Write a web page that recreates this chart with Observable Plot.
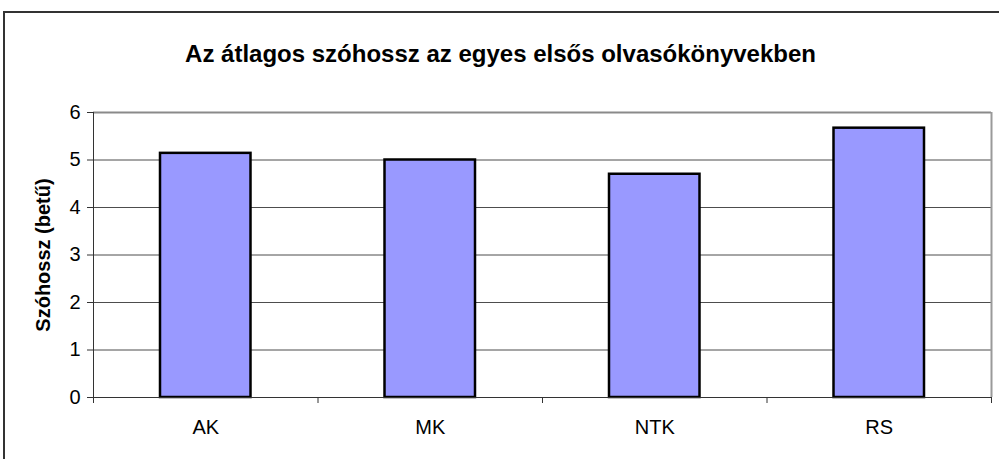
<!DOCTYPE html>
<html>
<head>
<meta charset="utf-8">
<script src="https://cdn.jsdelivr.net/npm/d3@7"></script>
<script src="https://cdn.jsdelivr.net/npm/@observablehq/plot@0.6"></script>
<style>
  html, body { margin: 0; padding: 0; background: #fff; overflow: hidden; }
  #wrap { position: relative; width: 999px; height: 459px; overflow: hidden; font-family: "Liberation Sans", Arial, sans-serif; }
  #frame { position: absolute; left: 3px; top: 11px; width: 1100px; height: 600px; border-left: 2px solid #333; border-top: 2px solid #333; box-sizing: border-box; pointer-events: none; }
  #chart { position: absolute; left: 0; top: 0; }
</style>
</head>
<body>
<div id="wrap"><div id="chart"></div><div id="frame"></div></div>
<script>
const title = "Az átlagos szóhossz az egyes elsős olvasókönyvekben";
const yLabel = "Szóhossz (betű)";
const categories = ["AK", "MK", "NTK", "RS"];
const values = [5.14, 5.0, 4.7, 5.67];
const yTicks = [0, 1, 2, 3, 4, 5, 6];

const data = categories.map((c, i) => ({i, cat: c, value: values[i]}));
const n = categories.length;
const boundaries = d3.range(n + 1);
const centers = d3.range(n).map(i => i + 0.5);

const chart = Plot.plot({
  width: 999,
  height: 459,
  marginLeft: 93,
  marginRight: 8,
  marginTop: 112,
  marginBottom: 62,
  style: {fontFamily: '"Liberation Sans", Arial, sans-serif', background: "transparent", color: "#000"},
  x: {domain: [0, n], axis: null},
  y: {domain: [0, 6], axis: null},
  marks: [
    Plot.ruleY(yTicks.filter(t => t > 0 && t < 6), {stroke: "#4d4d4d", strokeWidth: 1}),
    Plot.ruleY([6], {stroke: "#8a8a8a", strokeWidth: 2}),
    Plot.ruleX([n], {stroke: "#9a9a9a", strokeWidth: 2}),
    Plot.rectY(data, {x1: d => d.i, x2: d => d.i + 1, y: "value", insetLeft: 67, insetRight: 67, fill: "#9999FF", stroke: "#000", strokeWidth: 2.5}),
    Plot.axisY({ticks: yTicks, tickSize: 6, tickPadding: 7, tickFormat: d3.format("d"), fontSize: 20, label: null, stroke: "#333"}),
    Plot.axisX({ticks: boundaries, tickSize: 6, tickFormat: () => "", label: null, stroke: "#333"}),
    Plot.axisX({ticks: centers, tickSize: 0, tickPadding: 22, tickFormat: v => categories[Math.floor(v)], fontSize: 20, label: null}),
    Plot.ruleX([0], {stroke: "#333", strokeWidth: 1}),
    Plot.ruleY([0], {stroke: "#333", strokeWidth: 1}),
    Plot.text([yLabel], {frameAnchor: "left", textAnchor: "middle", rotate: -90, dx: -50, fontWeight: "bold", fontSize: 20, fill: "#000"}),
    Plot.text([title], {frameAnchor: "top", dx: -42, dy: -68, fontWeight: "bold", fontSize: 24, fill: "#000"})
  ]
});
document.getElementById("chart").appendChild(chart);
</script>
</body>
</html>
